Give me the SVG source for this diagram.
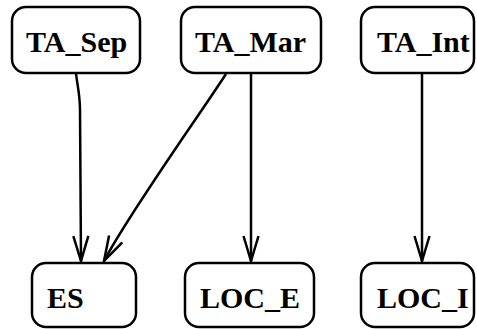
<svg xmlns="http://www.w3.org/2000/svg" width="477" height="329" viewBox="0 0 477 329">
  <style>
    .box { fill: #ffffff; stroke: #000000; stroke-width: 2.5; }
    .lbl { font-family: "Liberation Serif", "Times New Roman", serif; font-weight: bold; font-size: 30px; fill: #000000; }
    .edge { fill: none; stroke: #000000; stroke-width: 2.5; marker-end: url(#head); }
  </style>
  <defs>
    <marker id="head" markerUnits="userSpaceOnUse" markerWidth="30" markerHeight="20" viewBox="-26 -10 28 20" refX="0" refY="0" orient="auto">
      <path d="M-25,-7.5 L0,0 L-25,7.5" fill="none" stroke="#000000" stroke-width="2.5"/>
    </marker>
  </defs>
  <rect width="477" height="329" fill="#ffffff"/>

  <g id="edges">
    <path class="edge" d="M76,73 C77,84 80,94 80,110 L81,261"/>
    <path class="edge" d="M226,74 C196,120 130,212 104,261"/>
    <path class="edge" d="M251,73 L251,261"/>
    <path class="edge" d="M422,73 L422,261"/>
  </g>

  <g id="TA_Sep">
    <rect class="box" x="12" y="7" width="128" height="66" rx="14"/>
    <text class="lbl" x="26" y="52">TA_Sep</text>
  </g>
  <g id="TA_Mar">
    <rect class="box" x="181" y="7" width="140" height="66" rx="14"/>
    <text class="lbl" x="195" y="52">TA_Mar</text>
  </g>
  <g id="TA_Int">
    <rect class="box" x="361" y="7" width="113" height="66" rx="14"/>
    <text class="lbl" x="377" y="52">TA_Int</text>
  </g>
  <g id="ES">
    <rect class="box" x="32" y="263" width="104" height="64" rx="14"/>
    <text class="lbl" x="47" y="308">ES</text>
  </g>
  <g id="LOC_E">
    <rect class="box" x="185" y="263" width="129" height="64" rx="14"/>
    <text class="lbl" x="200" y="308">LOC_E</text>
  </g>
  <g id="LOC_I">
    <rect class="box" x="361" y="263" width="113" height="64" rx="14"/>
    <text class="lbl" x="377" y="308">LOC_I</text>
  </g>
</svg>
